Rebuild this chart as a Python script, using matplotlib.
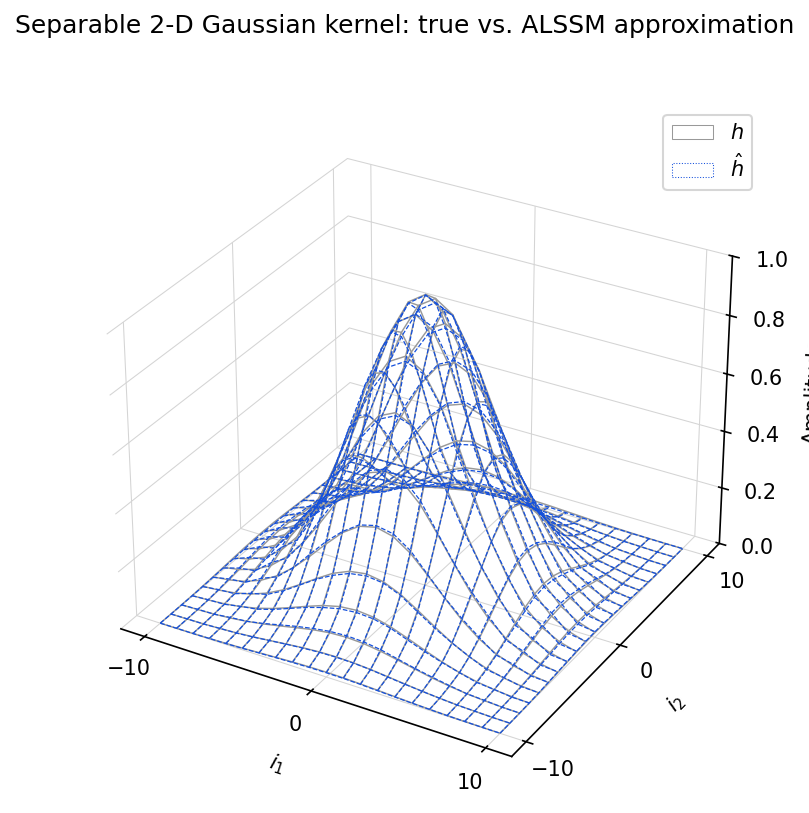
import numpy as np
import matplotlib
matplotlib.use("Agg")
import matplotlib.pyplot as plt
from matplotlib.patches import Patch

plt.rcParams["grid.color"] = "#d4d4d4"
plt.rcParams["grid.linewidth"] = 0.5

idx = [-10, -9, -8, -7, -6, -5, -4, -3, -2, -1, 0, 1, 2, 3, 4, 5, 6, 7, 8, 9, 10]

# 1-D kernels, one per image direction.
g_true = [0.017, 0.037, 0.073, 0.135, 0.230, 0.360, 0.520, 0.690, 0.850, 0.960, 1.0,
          0.960, 0.850, 0.690, 0.520, 0.360, 0.230, 0.135, 0.073, 0.037, 0.017]
g_hat_1 = [0.012, 0.046, 0.062, 0.150, 0.215, 0.353, 0.527, 0.698, 0.842, 0.952, 0.994,
           0.965, 0.857, 0.682, 0.512, 0.366, 0.240, 0.122, 0.084, 0.028, 0.020]
g_hat_2 = [0.015, 0.036, 0.079, 0.128, 0.224, 0.368, 0.532, 0.684, 0.838, 0.968, 1.004,
           0.952, 0.840, 0.702, 0.532, 0.350, 0.224, 0.143, 0.079, 0.032, 0.010]

I1, I2 = np.meshgrid(idx, idx, indexing="ij")
h = np.outer(g_true, g_true)
h_hat = np.outer(g_hat_1, g_hat_2)

fig = plt.figure(figsize=(809 / 150, 813 / 150), dpi=150)
ax = fig.add_axes([0.0845, 0.0134, 0.86, 0.86], projection="3d")
ax.computed_zorder = False
ax.plot_wireframe(I1, I2, h, color="#999999", linewidth=0.7, zorder=2)
ax.plot_wireframe(I1, I2, h_hat, color="#1450dc", linewidth=0.6, linestyle="--", zorder=3)

ax.set_xticks([-10, 0, 10])
ax.set_yticks([-10, 0, 10])
ax.set_zlim(0, 1)
for lab in ax.get_xticklabels() + ax.get_yticklabels():
    lab.set_va("center")
ax.set_xlabel("$i_1$")
ax.set_ylabel("$i_2$")
ax.set_zlabel("Amplitude", labelpad=5.25)
ax.xaxis.set_pane_color("white")
ax.yaxis.set_pane_color("white")
ax.zaxis.set_pane_color("white")

handles = [Patch(facecolor="white", edgecolor="#999999", linewidth=0.5, label="$h$"),
           Patch(facecolor="white", edgecolor="#1450dc", linewidth=0.5, linestyle=":", label=r"$\hat{h}$")]
ax.legend(handles=handles, loc="upper right", bbox_to_anchor=(0.998, 1.0))
fig.text(0.5, 0.968, "Separable 2-D Gaussian kernel: true vs. ALSSM approximation",
         ha="center", va="center", fontsize=12)
fig.savefig("out.png", dpi=150)
